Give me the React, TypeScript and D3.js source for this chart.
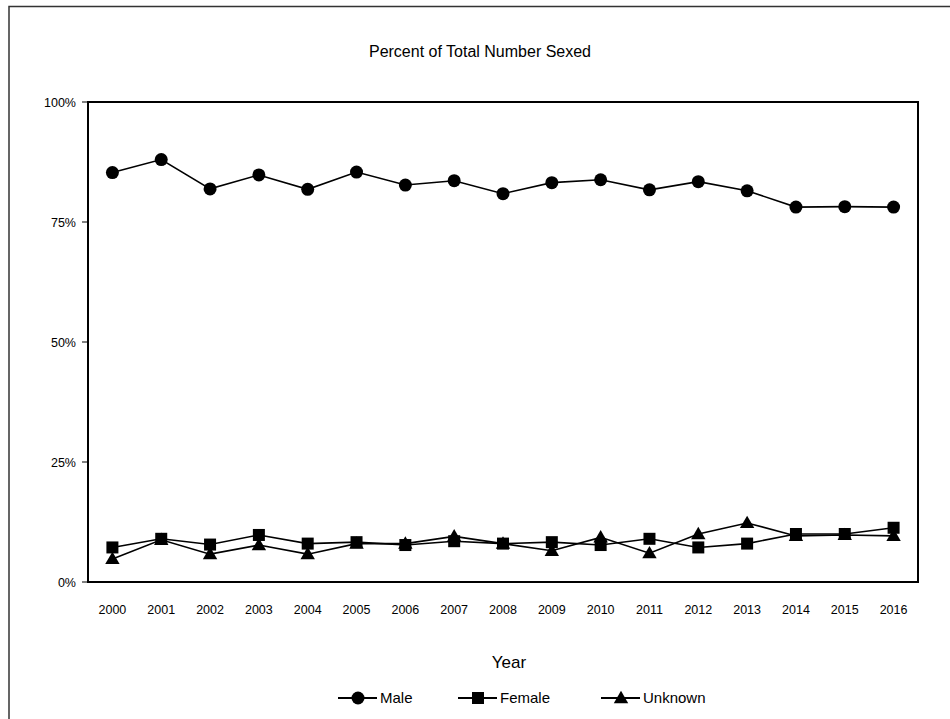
import * as d3 from "d3";
import React, { useEffect, useRef } from "react";

const years = ["2000", "2001", "2002", "2003", "2004", "2005", "2006", "2007", "2008", "2009", "2010", "2011", "2012", "2013", "2014", "2015", "2016"];
const male = [85.3, 88.0, 81.9, 84.8, 81.8, 85.4, 82.7, 83.6, 80.9, 83.2, 83.8, 81.7, 83.4, 81.5, 78.1, 78.2, 78.1];
const female = [7.2, 9.0, 7.8, 9.8, 8.0, 8.3, 7.7, 8.5, 8.0, 8.3, 7.7, 9.0, 7.2, 8.0, 10.0, 10.0, 11.3];
const unknown = [4.8, 8.8, 5.8, 7.7, 5.8, 8.0, 8.0, 9.5, 8.0, 6.5, 9.3, 6.0, 10.0, 12.3, 9.6, 9.8, 9.6];
const yTicks = [0, 25, 50, 75, 100];
const seriesNames = ["Male", "Female", "Unknown"];

const width = 950;
const height = 719;
const font = "Arial, 'Liberation Sans', sans-serif";

const App: React.FC = () => {
  const ref = useRef<SVGSVGElement>(null);

  useEffect(() => {
    if (!ref.current) return;
    const svg = d3.select(ref.current);
    svg.selectAll("*").remove();

    const left = 88, right = 918, top = 102, bottom = 582;

    const x = d3.scalePoint<string>().domain(years).range([left, right]).padding(0.5);
    const y = d3.scaleLinear().domain([0, 100]).range([bottom, top]);

    // outer border (scanned page frame)
    svg.append("path")
      .attr("d", `M9,${height} V6.5 H${width}`)
      .attr("fill", "none")
      .attr("stroke", "#333")
      .attr("stroke-width", 1.5);

    svg.append("text")
      .attr("x", 480)
      .attr("y", 57)
      .attr("text-anchor", "middle")
      .style("font-family", font)
      .style("font-size", "16px")
      .text("Percent of Total Number Sexed");

    // y axis ticks
    const yAxis = svg.append("g");
    yTicks.forEach((t) => {
      yAxis.append("line")
        .attr("x1", left - 6).attr("x2", left)
        .attr("y1", y(t)).attr("y2", y(t))
        .attr("stroke", "#000").attr("stroke-width", 1);
      yAxis.append("text")
        .attr("x", left - 12)
        .attr("y", y(t) + 4.5)
        .attr("text-anchor", "end")
        .style("font-family", font)
        .style("font-size", "12.5px")
        .text(`${t}%`);
    });

    // x labels
    svg.append("g")
      .selectAll("text")
      .data(years)
      .enter()
      .append("text")
      .attr("x", (d) => x(d)!)
      .attr("y", bottom + 32)
      .attr("text-anchor", "middle")
      .style("font-family", font)
      .style("font-size", "12.5px")
      .text((d) => d);

    // plot frame
    svg.append("rect")
      .attr("x", left).attr("y", top)
      .attr("width", right - left).attr("height", bottom - top)
      .attr("fill", "none")
      .attr("stroke", "#000")
      .attr("stroke-width", 2);

    svg.append("text")
      .attr("x", 509)
      .attr("y", 668)
      .attr("text-anchor", "middle")
      .style("font-family", font)
      .style("font-size", "17px")
      .text("Year");

    const line = d3.line<number>()
      .x((_, i) => x(years[i])!)
      .y((d) => y(d));

    const drawMarker = (g: d3.Selection<SVGGElement, unknown, null, undefined>, kind: number, cx: number, cy: number) => {
      if (kind === 0) {
        g.append("circle").attr("cx", cx).attr("cy", cy).attr("r", 6.5).attr("fill", "#000");
      } else if (kind === 1) {
        g.append("rect").attr("x", cx - 6).attr("y", cy - 6).attr("width", 12).attr("height", 12).attr("fill", "#000");
      } else {
        g.append("path")
          .attr("d", d3.symbol().type(d3.symbolTriangle).size(90)())
          .attr("transform", `translate(${cx},${cy + 1})`)
          .attr("fill", "#000");
      }
    };

    const allSeries = [male, female, unknown];
    // draw in reverse so Male is on top
    [2, 1, 0].forEach((k) => {
      const data = allSeries[k];
      const g = svg.append("g");
      g.append("path")
        .attr("d", line(data)!)
        .attr("fill", "none")
        .attr("stroke", "#000")
        .attr("stroke-width", 1.6);
      data.forEach((v, i) => drawMarker(g, k, x(years[i])!, y(v)));
    });

    // legend
    const legendY = 698;
    const legendX = [338, 458, 601];
    const legend = svg.append("g");
    seriesNames.forEach((name, k) => {
      const lx = legendX[k];
      const g = legend.append("g");
      g.append("line")
        .attr("x1", lx).attr("x2", lx + 39)
        .attr("y1", legendY).attr("y2", legendY)
        .attr("stroke", "#000").attr("stroke-width", 2);
      drawMarker(g, k, lx + 20, legendY);
      g.append("text")
        .attr("x", lx + 42)
        .attr("y", legendY + 5)
        .style("font-family", font)
        .style("font-size", "15px")
        .text(name);
    });
  }, []);

  return (
    <svg
      ref={ref}
      width={width}
      height={height}
      style={{ position: "absolute", left: 0, top: 0, background: "#fff" }}
    ></svg>
  );
};

export default App;
